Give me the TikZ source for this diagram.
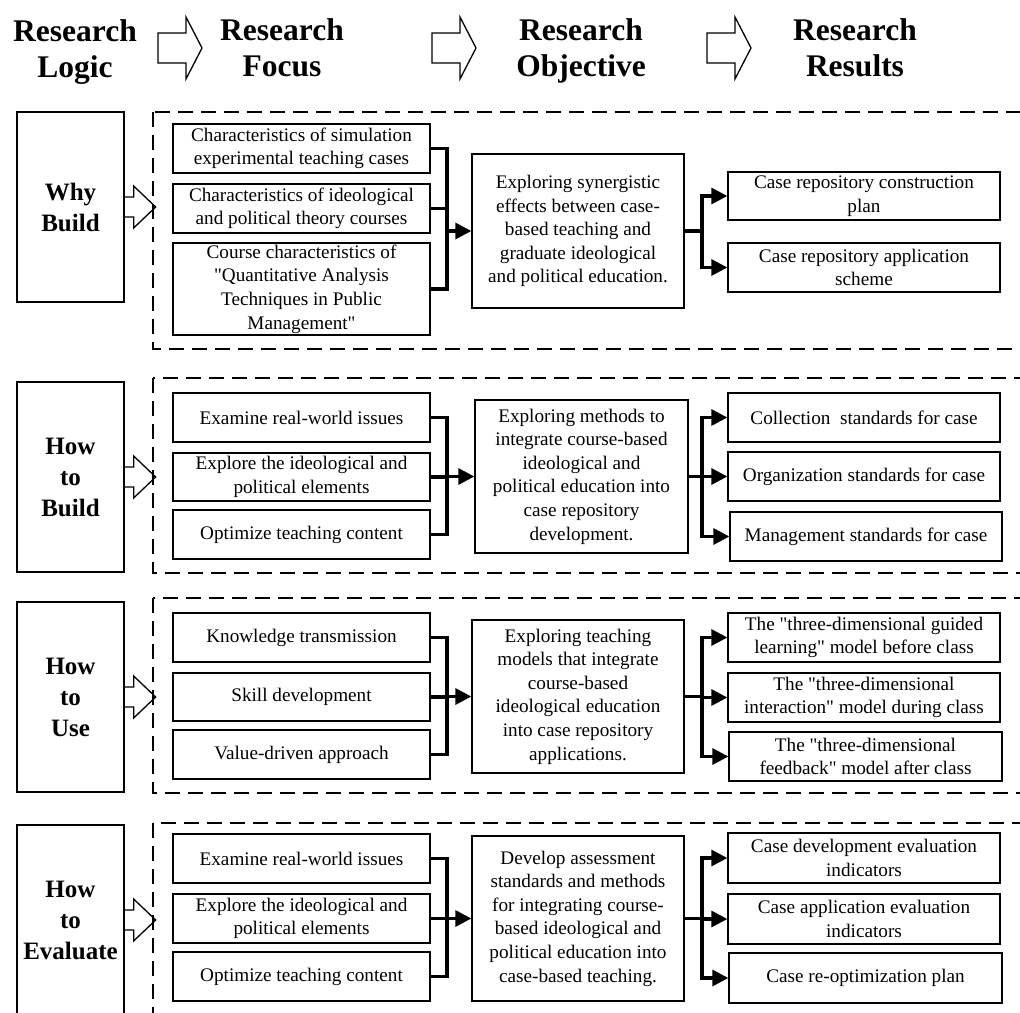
\documentclass[tikz,border=0pt]{standalone}
\usepackage{fontspec}
\setmainfont{Liberation Serif}
\usetikzlibrary{arrows.meta}
\newcommand\qq{\textquotedbl}
\begin{document}
\begin{tikzpicture}[x=1pt,y=-1pt,
  box/.style={draw, line width=1.3pt, inner sep=0pt, align=center, font=\fontsize{19.2}{23.6}\selectfont},
  fbox/.style={box, minimum width=257pt, minimum height=49pt},
  obox/.style={box, minimum width=212pt},
  rbox/.style={box, minimum width=272pt, minimum height=49pt},
  hdr/.style={align=center, inner sep=0pt, anchor=base, font=\fontsize{31.5}{36}\selectfont\bfseries},
  logic/.style={draw, line width=1.3pt, inner sep=0pt, align=center, minimum width=107pt, minimum height=190pt, font=\fontsize{25}{31}\selectfont\bfseries},
  grp/.style={draw, line width=2.5pt, dash pattern=on 15pt off 8pt},
  bus/.style={line width=3.2pt, line join=miter, line cap=rect},
  arr/.style={line width=3.2pt, -{Triangle[length=16pt,width=16pt]}},
  hollow/.style={draw, line width=1.3pt, line join=miter},
  harrow/.pic={\draw[hollow] (0,-15) -- (28,-15) -- (28,-31) -- (44,0) -- (28,31) -- (28,15) -- (0,15) -- cycle;},
  sarrow/.pic={\draw[hollow] (0,-10) -- (9,-10) -- (9,-21) -- (31,0) -- (9,21) -- (9,10) -- (0,10);}
]
\path[use as bounding box, clip] (0,0) rectangle (1020,1012);
\coordinate (bx) at (447,0);
\coordinate (rx) at (702,0);

% headers
\node[hdr] (h1) at (75,77) {Research\\Logic};
\node[hdr] (h2) at (282,76) {Research\\Focus};
\node[hdr] (h3) at (581,76) {Research\\Objective};
\node[hdr] (h4) at (855,76) {Research\\Results};
\pic at (158,48) {harrow};
\pic at (432,48) {harrow};
\pic at (707,48) {harrow};

% dashed groups
\draw[grp] (153,112) rectangle (1040,349);
\draw[grp] (153,378) rectangle (1040,573);
\draw[grp] (153,598) rectangle (1040,793);
\draw[grp] (153,823) rectangle (1040,1040);

% logic boxes
\node[logic] (L1) at (70.5,207) {Why\\Build};
\node[logic] (L2) at (70.5,477) {How\\to\\Build};
\node[logic] (L3) at (70.5,697) {How\\to\\Use};
\node[logic] (L4) at (70.5,920) {How\\to\\Evaluate};
\pic at (L1.east) {sarrow};
\pic at (L2.east) {sarrow};
\pic at (L3.east) {sarrow};
\pic at (L4.east) {sarrow};

% ---------- section 1
\node[fbox] (f1a) at (301.5,148.5) {Characteristics of simulation\\experimental teaching cases};
\node[fbox] (f1b) at (301.5,208.5) {Characteristics of ideological\\and political theory courses};
\node[fbox, minimum height=92pt] (f1c) at (301.5,289) {Course characteristics of\\\qq Quantitative Analysis\\Techniques in Public\\Management\qq};
\node[obox, minimum height=154pt] (o1) at (578,231) {Exploring synergistic\\effects between case-\\based teaching and\\graduate ideological\\and political education.};
\node[rbox, minimum height=48pt] (r1a) at (864,196) {Case repository construction\\plan};
\node[rbox] (r1b) at (864,267.5) {Case repository application\\scheme};

\draw[bus] (f1a.east) -| (bx |- f1c.east) -- (f1c.east);
\draw[bus] (f1b.east) -- (bx |- f1b.east);
\draw[arr] (bx |- o1.west) -- (o1.west);
\draw[bus] (o1.east) -- (rx |- o1.east);
\draw[bus] (rx |- r1a.west) -- (rx |- r1b.west);
\draw[arr] (rx |- r1a.west) -- (r1a.west);
\draw[arr] (rx |- r1b.west) -- (r1b.west);

% ---------- section 2
\node[fbox] (f2a) at (301.5,417.5) {Examine real-world issues};
\node[fbox, minimum height=48pt] (f2b) at (301.5,477) {Explore the ideological and\\political elements};
\node[fbox] (f2c) at (301.5,534.5) {Optimize teaching content};
\node[obox, minimum width=213pt, minimum height=153pt] (o2) at (581.5,476.5) {Exploring methods to\\integrate course-based\\ideological and\\political education into\\case repository\\development.};
\node[rbox] (r2a) at (864,417.5) {Collection~~standards for case};
\node[rbox] (r2b) at (864,476.5) {Organization standards for case};
\node[rbox] (r2c) at (866,536.5) {Management standards for case};

\draw[bus] (f2a.east) -| (bx |- f2c.east) -- (f2c.east);
\draw[bus] (f2b.east) -- (bx |- f2b.east);
\draw[arr] (bx |- o2.west) -- (o2.west);
\draw[bus] (o2.east) -- (rx |- o2.east);
\draw[bus] (rx |- r2a.west) -- (rx |- r2c.west);
\draw[arr] (rx |- r2a.west) -- (r2a.west);
\draw[arr] (rx |- r2b.west) -- (r2b.west);
\draw[arr] (rx |- r2c.west) -- (r2c.west);

% ---------- section 3
\node[fbox] (f3a) at (301.5,637.5) {Knowledge transmission};
\node[fbox, minimum height=48pt] (f3b) at (301.5,697) {Skill development};
\node[fbox] (f3c) at (301.5,754.5) {Value-driven approach};
\node[obox, minimum height=153pt] (o3) at (578,696.5) {Exploring teaching\\models that integrate\\course-based\\ideological education\\into case repository\\applications.};
\node[rbox] (r3a) at (864,637.5) {The \qq three-dimensional guided\\learning\qq{} model before class};
\node[rbox] (r3b) at (864,697.5) {The \qq three-dimensional\\interaction\qq{} model during class};
\node[rbox, minimum width=273pt] (r3c) at (865.5,756.5) {The \qq three-dimensional\\feedback\qq{} model after class};

\draw[bus] (f3a.east) -| (bx |- f3c.east) -- (f3c.east);
\draw[bus] (f3b.east) -- (bx |- f3b.east);
\draw[arr] (bx |- o3.west) -- (o3.west);
\draw[bus] (o3.east) -- (rx |- o3.east);
\draw[bus] (rx |- r3a.west) -- (rx |- r3c.west);
\draw[arr] (rx |- r3a.west) -- (r3a.west);
\draw[arr] (rx |- r3b.west) -- (r3b.west);
\draw[arr] (rx |- r3c.west) -- (r3c.west);

% ---------- section 4
\node[fbox] (f4a) at (301.5,858.5) {Examine real-world issues};
\node[fbox] (f4b) at (301.5,918.5) {Explore the ideological and\\political elements};
\node[fbox] (f4c) at (301.5,976.5) {Optimize teaching content};
\node[obox, minimum height=165pt] (o4) at (578,918.5) {Develop assessment\\standards and methods\\for integrating course-\\based ideological and\\political education into\\case-based teaching.};
\node[rbox, minimum height=50pt] (r4a) at (864,858) {Case development evaluation\\indicators};
\node[rbox, minimum height=50pt] (r4b) at (864,919) {Case application evaluation\\indicators};
\node[rbox, minimum width=273pt, minimum height=50pt] (r4c) at (865.5,978) {Case re-optimization plan};

\draw[bus] (f4a.east) -| (bx |- f4c.east) -- (f4c.east);
\draw[bus] (f4b.east) -- (bx |- f4b.east);
\draw[arr] (bx |- o4.west) -- (o4.west);
\draw[bus] (o4.east) -- (rx |- o4.east);
\draw[bus] (rx |- r4a.west) -- (rx |- r4c.west);
\draw[arr] (rx |- r4a.west) -- (r4a.west);
\draw[arr] (rx |- r4b.west) -- (r4b.west);
\draw[arr] (rx |- r4c.west) -- (r4c.west);
\end{tikzpicture}
\end{document}
